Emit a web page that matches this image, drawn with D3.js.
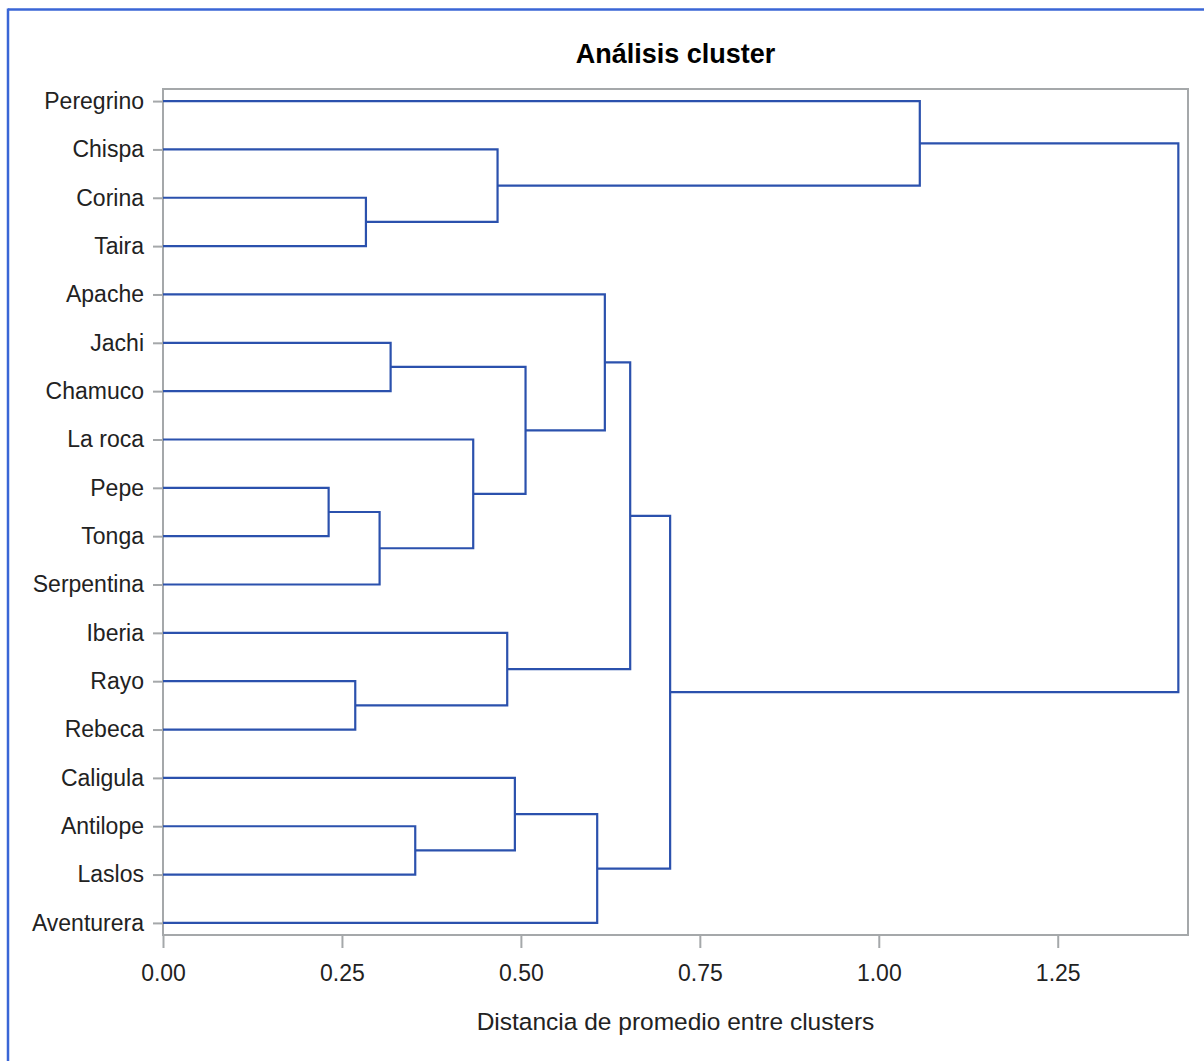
<!DOCTYPE html>
<html>
<head>
<meta charset="utf-8">
<script src="https://cdn.jsdelivr.net/npm/d3@7"></script>
<style>
  html, body { margin: 0; padding: 0; background: #fff; }
  svg { display: block; }
  text { font-family: "Liberation Sans", Arial, sans-serif; fill: #222; }
</style>
</head>
<body>
<svg id="chart" width="1204" height="1061"></svg>
<script>
// ---- data ----
const title = "Análisis cluster";
const xLabel = "Distancia de promedio entre clusters";
const leaves = ["Peregrino","Chispa","Corina","Taira","Apache","Jachi","Chamuco","La roca",
  "Pepe","Tonga","Serpentina","Iberia","Rayo","Rebeca","Caligula","Antilope","Laslos","Aventurera"];
// linkage: [left node, right node, height]; leaves are 0..17, merge i gets id 18+i
const linkLeft   = [8, 12, 2, 18, 5, 15, 7, 1, 11, 14, 22, 27, 4, 30, 31, 0, 33];
const linkRight  = [9, 13, 3, 10, 6, 16, 21, 20, 19, 23, 24, 17, 28, 26, 29, 25, 32];
const linkHeight = [0.2314, 0.2686, 0.2835, 0.3026, 0.318, 0.3524, 0.4334, 0.4674, 0.4809,
  0.4916, 0.5065, 0.6066, 0.6173, 0.6527, 0.7085, 1.0573, 1.4185];
const xTicks = [0, 0.25, 0.5, 0.75, 1.0, 1.25];

// ---- layout ----
const svg = d3.select("#chart");
const plot = {left: 163, right: 1188, top: 89, bottom: 935};
const x = d3.scaleLinear().domain([0, 1.432]).range([plot.left, plot.right]);
const y = d3.scalePoint().domain(leaves).range([plot.top, plot.bottom]).padding(0.25);

svg.append("rect").attr("width", 1204).attr("height", 1061).attr("fill", "#fff");
// page border (top & left visible)
svg.append("line").attr("x1", 8).attr("x2", 1204).attr("y1", 9.5).attr("y2", 9.5)
  .attr("stroke", "#3a66d6").attr("stroke-width", 2.5);
svg.append("line").attr("x1", 8).attr("x2", 8).attr("y1", 8.5).attr("y2", 1061)
  .attr("stroke", "#3a66d6").attr("stroke-width", 2.5);

// title
svg.append("text").attr("x", (plot.left + plot.right) / 2).attr("y", 63)
  .attr("text-anchor", "middle").attr("font-size", 27).attr("font-weight", "bold")
  .style("fill", "#000").text(title);

// node positions
const nodeX = [], nodeY = [];
leaves.forEach((l, i) => { nodeX[i] = 0; nodeY[i] = y(l); });
linkHeight.forEach((h, i) => {
  const id = leaves.length + i;
  nodeX[id] = h;
  nodeY[id] = (nodeY[linkLeft[i]] + nodeY[linkRight[i]]) / 2;
});

// frame
svg.append("rect").attr("x", plot.left).attr("y", plot.top)
  .attr("width", plot.right - plot.left).attr("height", plot.bottom - plot.top)
  .attr("fill", "none").attr("stroke", "#a5a8aa").attr("stroke-width", 2);

// axes
const xAxis = svg.append("g").attr("transform", `translate(0,${plot.bottom})`)
  .call(d3.axisBottom(x).tickValues(xTicks).tickFormat(d3.format(".2f")).tickSize(13).tickPadding(17));
xAxis.select(".domain").remove();
xAxis.selectAll("line").attr("stroke", "#a5a8aa").attr("stroke-width", 2);
xAxis.selectAll("text").attr("font-size", 23).attr("font-family", null).style("fill", "#222");

const yAxis = svg.append("g").attr("transform", `translate(${plot.left},0)`)
  .call(d3.axisLeft(y).tickSize(10).tickPadding(9));
yAxis.select(".domain").remove();
yAxis.selectAll("line").attr("stroke", "#a5a8aa").attr("stroke-width", 2);
yAxis.selectAll("text").attr("font-size", 23).attr("font-family", null).attr("dy", "0.32em").style("fill", "#222");

// axis label
svg.append("text").attr("x", (plot.left + plot.right) / 2).attr("y", 1030)
  .attr("text-anchor", "middle").attr("font-size", 24.5).text(xLabel);

// dendrogram links
const lineColor = "#2b51ad";
svg.append("g").selectAll("path").data(linkHeight).join("path")
  .attr("fill", "none").attr("stroke", lineColor).attr("stroke-width", 2.2)
  .attr("d", (h, i) => {
    const a = linkLeft[i], b = linkRight[i];
    return `M${x(nodeX[a])},${nodeY[a]}H${x(h)}V${nodeY[b]}H${x(nodeX[b])}`;
  });
</script>
</body>
</html>
